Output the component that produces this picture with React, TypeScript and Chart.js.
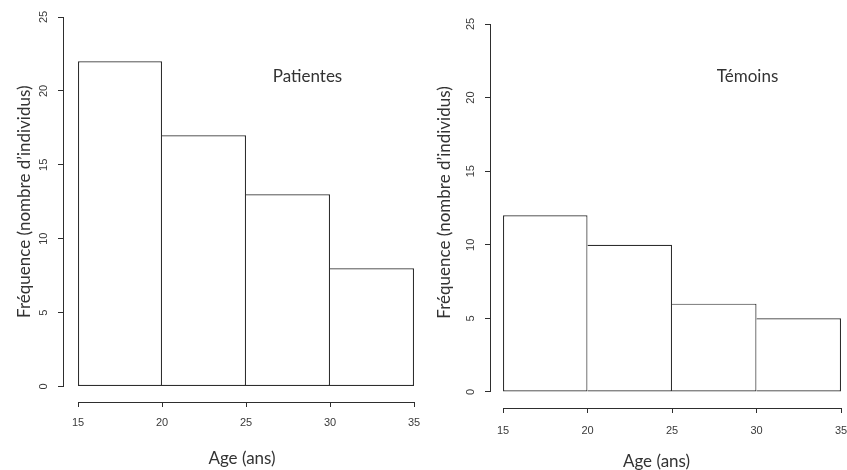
import React, { useEffect, useRef } from 'react';
import { Chart, registerables } from 'chart.js';

Chart.register(...registerables);

// ---- data ----
const ageBreaks = [15, 20, 25, 30, 35];
const patientesCounts = [22, 17, 13, 8];
const temoinsCounts = [12, 10, 6, 5];
const yTickValues = [0, 5, 10, 15, 20, 25];
const xAxisTitle = 'Age (ans)';
const yAxisTitle = 'Fréquence (nombre d’individus)';
const patientesLabel = 'Patientes';
const temoinsLabel = 'Témoins';

// ---- style ----
const LINE = '#2e2e2e';
const TEXT = '#333333';
const TICK_TEXT = '#3a3a3a';
const TITLE_FONT = "17px Lato, 'Open Sans', sans-serif";
const TICK_FONT = { family: "'Liberation Sans Narrow', 'Liberation Sans', Arial, sans-serif", size: 11 };

const alignPx = (p: number) => Math.round(p - 0.5) + 0.5;

const rAxesPlugin = {
  id: 'rAxes',
  afterDraw(chart: any, _args: any, opts: any) {
    const { ctx, chartArea } = chart;
    const xs = chart.scales.x;
    const ys = chart.scales.y;
    ctx.save();
    ctx.strokeStyle = LINE;
    ctx.lineWidth = 1;
    // y axis line spanning the tick range (R style)
    const lx = alignPx(chartArea.left);
    const yTop = ys.getPixelForValue(yTickValues[yTickValues.length - 1]);
    const yBot = ys.getPixelForValue(yTickValues[0]);
    ctx.beginPath();
    ctx.moveTo(lx, alignPx(yTop) - 0.5);
    ctx.lineTo(lx, alignPx(yBot) + 0.5);
    ctx.stroke();
    // x axis line spanning the breaks
    const by = alignPx(chartArea.bottom);
    ctx.beginPath();
    ctx.moveTo(alignPx(xs.getPixelForValue(ageBreaks[0])) - 0.5, by);
    ctx.lineTo(alignPx(xs.getPixelForValue(ageBreaks[ageBreaks.length - 1])) + 0.5, by);
    ctx.stroke();

    ctx.fillStyle = TEXT;
    ctx.font = TITLE_FONT;
    ctx.textAlign = 'center';
    ctx.textBaseline = 'middle';
    // panel label
    ctx.fillText(opts.label, xs.getPixelForValue(opts.labelAt[0]), ys.getPixelForValue(opts.labelAt[1]));
    // x title
    ctx.fillText(xAxisTitle, opts.xTitleX, opts.xTitleY);
    // y title
    ctx.save();
    ctx.translate(opts.yTitleX, (yTop + yBot) / 2 + opts.yTitleDy);
    ctx.rotate(-Math.PI / 2);
    ctx.fillText(yAxisTitle, 0, 0);
    ctx.restore();
    ctx.restore();
  },
};

type PanelCfg = {
  left: number;
  width: number;
  counts: number[];
  label: string;
  labelAt: [number, number];
  padding: { left: number; top: number; right: number; bottom: number };
  yScaleWidth: number;
  xScaleHeight: number;
  xMin: number;
  yMin: number;
  xTickPad: number;
  yTickPad: number;
  xTitleX: number;
  xTitleY: number;
  yTitleX: number;
  yTitleDy: number;
};

const panels: PanelCfg[] = [
  {
    left: 0,
    width: 435,
    counts: patientesCounts,
    label: patientesLabel,
    labelAt: [28.66, 20.94],
    padding: { left: 0, top: 17, right: 21, bottom: 1 },
    yScaleWidth: 63,
    xScaleHeight: 67,
    xMin: 14.107,
    yMin: -1.05,
    xTickPad: 9,
    yTickPad: 7.5,
    xTitleX: 242,
    xTitleY: 459,
    yTitleX: 25,
    yTitleDy: 0,
  },
  {
    left: 425,
    width: 442,
    counts: temoinsCounts,
    label: temoinsLabel,
    labelAt: [29.47, 21.43],
    padding: { left: 0, top: 24, right: 26, bottom: 0 },
    yScaleWidth: 65,
    xScaleHeight: 62,
    xMin: 14.23,
    yMin: -1.09,
    xTickPad: 11,
    yTickPad: 7.5,
    xTitleX: 231.5,
    xTitleY: 461.5,
    yTitleX: 20,
    yTitleDy: -5.5,
  },
];

function HistPanel({ cfg }: { cfg: PanelCfg }) {
  const ref = useRef<HTMLCanvasElement>(null);
  useEffect(() => {
    if (!ref.current) return;
    const mids = ageBreaks.slice(0, -1).map((b, i) => (b + ageBreaks[i + 1]) / 2);
    const bw = 1.2;
    const chart = new Chart(ref.current, {
      type: 'bar',
      data: {
        datasets: [
          {
            data: cfg.counts.map((c, i) => ({ x: mids[i], y: c })),
            backgroundColor: '#ffffff',
            borderColor: LINE,
            borderWidth: (ctx: any) => ({ top: bw, right: bw, bottom: bw, left: ctx.dataIndex === 0 ? bw : 0 }),
            borderSkipped: false,
            barPercentage: 1,
            categoryPercentage: 1,
            inflateAmount: 0,
          } as any,
        ],
      },
      options: {
        responsive: false,
        animation: false,
        events: [],
        layout: { padding: cfg.padding },
        plugins: {
          legend: { display: false },
          tooltip: { enabled: false },
          rAxes: {
            label: cfg.label,
            labelAt: cfg.labelAt,
            xTitleX: cfg.xTitleX,
            xTitleY: cfg.xTitleY,
            yTitleX: cfg.yTitleX,
            yTitleDy: cfg.yTitleDy,
          },
        } as any,
        scales: {
          x: {
            type: 'linear',
            min: cfg.xMin,
            max: ageBreaks[ageBreaks.length - 1],
            offset: false,
            grid: { offset: false, drawOnChartArea: false, drawTicks: true, tickLength: 5, color: LINE, lineWidth: 1 },
            border: { display: false },
            ticks: { padding: cfg.xTickPad, font: TICK_FONT, color: TICK_TEXT, maxRotation: 0, autoSkip: false },
            afterBuildTicks: (s: any) => {
              s.ticks = ageBreaks.map((v) => ({ value: v }));
            },
            afterFit: (s: any) => {
              s.height = cfg.xScaleHeight;
            },
          },
          y: {
            type: 'linear',
            min: cfg.yMin,
            max: yTickValues[yTickValues.length - 1],
            grid: { drawOnChartArea: false, drawTicks: true, tickLength: 5, color: LINE, lineWidth: 1 },
            border: { display: false },
            ticks: {
              padding: cfg.yTickPad,
              font: TICK_FONT,
              color: TICK_TEXT,
              minRotation: 90,
              maxRotation: 90,
              crossAlign: 'center',
              autoSkip: false,
            },
            afterBuildTicks: (s: any) => {
              s.ticks = yTickValues.map((v) => ({ value: v }));
            },
            afterFit: (s: any) => {
              s.width = cfg.yScaleWidth;
            },
          },
        } as any,
      },
      plugins: [rAxesPlugin],
    });
    return () => chart.destroy();
  }, [cfg]);
  return (
    <canvas
      ref={ref}
      width={cfg.width}
      height={470}
      style={{ position: 'absolute', left: cfg.left, top: 0, width: cfg.width, height: 470 }}
    />
  );
}

export default function App() {
  return (
    <div
      style={{
        position: 'absolute',
        left: 0,
        top: 0,
        width: 847,
        height: 470,
        overflow: 'hidden',
        background: '#ffffff',
      }}
    >
      {panels.map((p, i) => (
        <HistPanel key={i} cfg={p} />
      ))}
    </div>
  );
}
